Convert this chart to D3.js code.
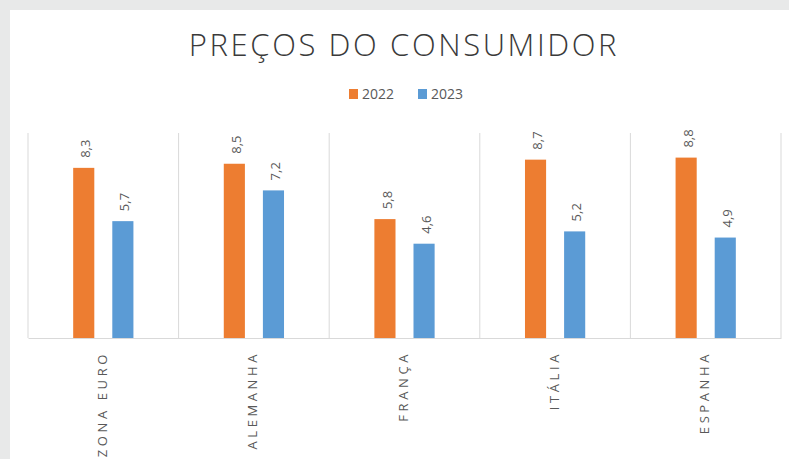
<!DOCTYPE html>
<meta charset="utf-8">
<script src="https://d3js.org/d3.v7.min.js"></script>
<style>
  body { margin: 0; background: #e8e9e9; }
  svg { display: block; font-family: "Open Sans", "Noto Sans", sans-serif; }
</style>
<div id="chart"></div>
<script>

// data
var categories = ["ZONA EURO", "ALEMANHA", "FRANÇA", "ITÁLIA", "ESPANHA"];
var years = ["2022", "2023"];
var values2022 = [8.3, 8.5, 5.8, 8.7, 8.8];
var values2023 = [5.7, 7.2, 4.6, 5.2, 4.9];
var colors = ["#ed7d31", "#5b9bd5"];

var W = 789, H = 459;
var margin = {top: 133, right: 8, bottom: 121, left: 28};

var svg = d3.select("#chart").append("svg")
    .attr("width", W)
    .attr("height", H);

// grey page behind the white card
svg.append("rect").attr("width", W).attr("height", H).attr("fill", "#e8e9e9");
svg.append("rect").attr("x", 10).attr("y", 10).attr("width", W - 10).attr("height", H - 10).attr("fill", "#ffffff");

var rows = categories.map(function(c, i) {
  return {cat: c, vals: [values2022[i], values2023[i]]};
});

var x0 = d3.scaleBand()
  .domain(categories)
  .range([margin.left, W - margin.right])
  .padding(0);

var bw = x0.bandwidth();
var x1 = d3.scaleBand()
  .domain(years)
  .range([bw * 0.3, bw * 0.7])
  .paddingInner(0.46);

var y = d3.scaleLinear()
  .domain([0, 10])
  .range([H - margin.bottom, margin.top]);

// title
svg.append("text")
    .attr("x", 404)
    .attr("y", 56)
    .attr("text-anchor", "middle")
    .style("font-size", "31px")
    .style("font-weight", 300)
    .style("letter-spacing", "2.6px")
    .attr("fill", "#3a3a3a")
    .text("PREÇOS DO CONSUMIDOR");

// legend
var legend = svg.append("g").attr("transform", "translate(349,89)");
var lg = legend.selectAll("g")
  .data(years)
  .enter().append("g")
    .attr("transform", function(d, i) { return "translate(" + (i * 69) + ",0)"; });
lg.append("rect")
    .attr("width", 9).attr("height", 10)
    .attr("fill", function(d, i) { return colors[i]; });
lg.append("text")
    .attr("x", 13).attr("y", 10)
    .style("font-size", "14px")
    .attr("fill", "#595959")
    .text(function(d) { return d; });

// category separators (vertical gridlines)
var seps = categories.map(function(c) { return x0(c); });
seps.push(x0(categories[categories.length - 1]) + bw);
svg.selectAll("line.sep")
  .data(seps)
  .enter().append("line")
    .attr("class", "sep")
    .attr("x1", function(d) { return d; })
    .attr("x2", function(d) { return d; })
    .attr("y1", y(10))
    .attr("y2", y(0))
    .attr("stroke", "#d9d9d9")
    .attr("stroke-width", 1);

// baseline axis
var xAxis = svg.append("g")
    .attr("transform", "translate(0," + y(0) + ")")
    .call(d3.axisBottom(x0).tickSize(0).tickPadding(0));
xAxis.select(".domain").attr("stroke", "#d9d9d9");
xAxis.selectAll("text")
    .attr("transform", "rotate(-90)")
    .attr("text-anchor", "end")
    .attr("x", -13)
    .attr("y", -1)
    .attr("dy", "0.35em")
    .style("font-size", "13px")
    .style("letter-spacing", "3.6px")
    .style("font-family", "\"Open Sans\", \"Noto Sans\", sans-serif")
    .attr("fill", "#595959");

// bars
var groups = svg.selectAll("g.cat")
  .data(rows)
  .enter().append("g")
    .attr("class", "cat")
    .attr("transform", function(d) { return "translate(" + x0(d.cat) + ",0)"; });

groups.selectAll("rect")
  .data(function(d) { return d.vals.map(function(v, i) { return {year: years[i], v: v, i: i}; }); })
  .enter().append("rect")
    .attr("x", function(d) { return x1(d.year); })
    .attr("y", function(d) { return y(d.v); })
    .attr("width", x1.bandwidth())
    .attr("height", function(d) { return y(0) - y(d.v); })
    .attr("fill", function(d) { return colors[d.i]; });

// value labels, rotated
groups.selectAll("text.val")
  .data(function(d) { return d.vals.map(function(v, i) { return {year: years[i], v: v}; }); })
  .enter().append("text")
    .attr("class", "val")
    .attr("transform", function(d) {
      return "translate(" + (x1(d.year) + x1.bandwidth() / 2 + 2) + "," + (y(d.v) - 10) + ") rotate(-90)";
    })
    .attr("dy", "0.35em")
    .style("font-size", "13px")
    .attr("fill", "#595959")
    .text(function(d) { return String(d.v).replace(".", ","); });

</script>
